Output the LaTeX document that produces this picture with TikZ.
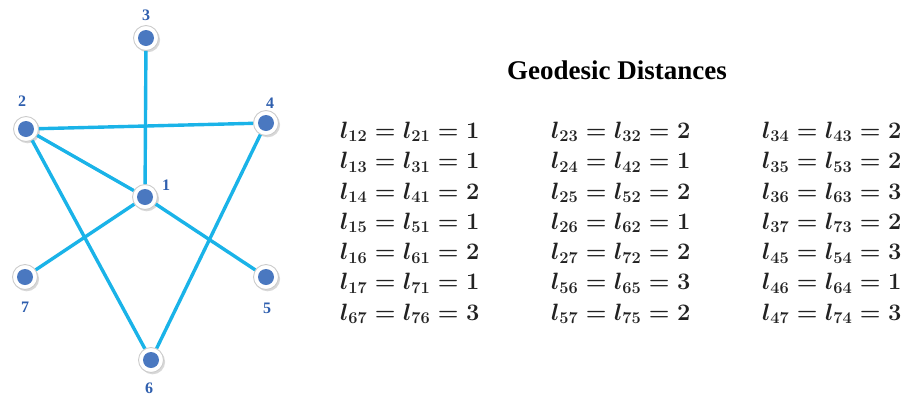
\documentclass[tikz,border=0pt]{standalone}
\usepackage{fontspec}
\setmainfont{Liberation Serif}
\usetikzlibrary{shadows}
\definecolor{edgecol}{HTML}{1AB3E8}
\definecolor{dotcol}{HTML}{4A78C0}
\definecolor{labcol}{HTML}{2F5FAE}
\definecolor{eqcol}{HTML}{222222}
\newcommand{\geodeq}[3]{\scalebox{0.95}{$l_{#1}=l_{#2}=#3$}}
\tikzset{
  vtx/.style={circle, minimum size=25pt, inner sep=0pt, fill=white, draw=gray!40, line width=0.9pt,
    drop shadow={shadow xshift=1.6pt, shadow yshift=-1.8pt, fill=gray!60},
    path picture={\fill[dotcol] (path picture bounding box.center) circle (8pt);}},
  lab/.style={font=\fontsize{16}{16}\selectfont\bfseries, text=labcol, inner sep=0pt},
  edge/.style={draw=edgecol, line width=3.4pt},
  eq/.style={anchor=west, inner sep=0pt, text=eqcol, font=\fontsize{23}{26}\selectfont\boldmath},
  title/.style={font=\fontsize{27}{30}\selectfont\bfseries, inner sep=0pt}
}
\begin{document}
\begin{tikzpicture}[x=1pt,y=-1pt]
\useasboundingbox (0,0) rectangle (903,397);
% vertices
\node[vtx] (n3) at (146,38) {};
\node[vtx] (n2) at (26,129) {};
\node[vtx] (n4) at (266,123) {};
\node[vtx] (n1) at (145,197) {};
\node[vtx] (n7) at (25,277) {};
\node[vtx] (n5) at (266,277) {};
\node[vtx] (n6) at (151,360) {};
% edges
\draw[edge] (n3) -- (n1);
\draw[edge] (n2) -- (n4);
\draw[edge] (n2) -- (n1);
\draw[edge] (n2) -- (n6);
\draw[edge] (n4) -- (n6);
\draw[edge] (n1) -- (n7);
\draw[edge] (n1) -- (n5);
% labels
\node[lab] (l3) at (146,15) {3};
\node[lab] (l2) at (22,101) {2};
\node[lab] (l4) at (270,103) {4};
\node[lab] (l1) at (166,185) {1};
\node[lab] (l7) at (25,307) {7};
\node[lab] (l5) at (267,308) {5};
\node[lab] (l6) at (149,388) {6};
% title
\node[title] (t) at (617,70) {Geodesic Distances};
% equations
\foreach \a/\b/\v [count=\i from 0] in {12/21/1,13/31/1,14/41/2,15/51/1,16/61/2,17/71/1,67/76/3}
  \node[eq] (ea\i) at (340,{132+30.3*\i}) {\geodeq{\a}{\b}{\v}};
\foreach \a/\b/\v [count=\i from 0] in {23/32/2,24/42/1,25/52/2,26/62/1,27/72/2,56/65/3,57/75/2}
  \node[eq] (eb\i) at (551,{132+30.3*\i}) {\geodeq{\a}{\b}{\v}};
\foreach \a/\b/\v [count=\i from 0] in {34/43/2,35/53/2,36/63/3,37/73/2,45/54/3,46/64/1,47/74/3}
  \node[eq] (ec\i) at (762,{132+30.3*\i}) {\geodeq{\a}{\b}{\v}};
\end{tikzpicture}
\end{document}
